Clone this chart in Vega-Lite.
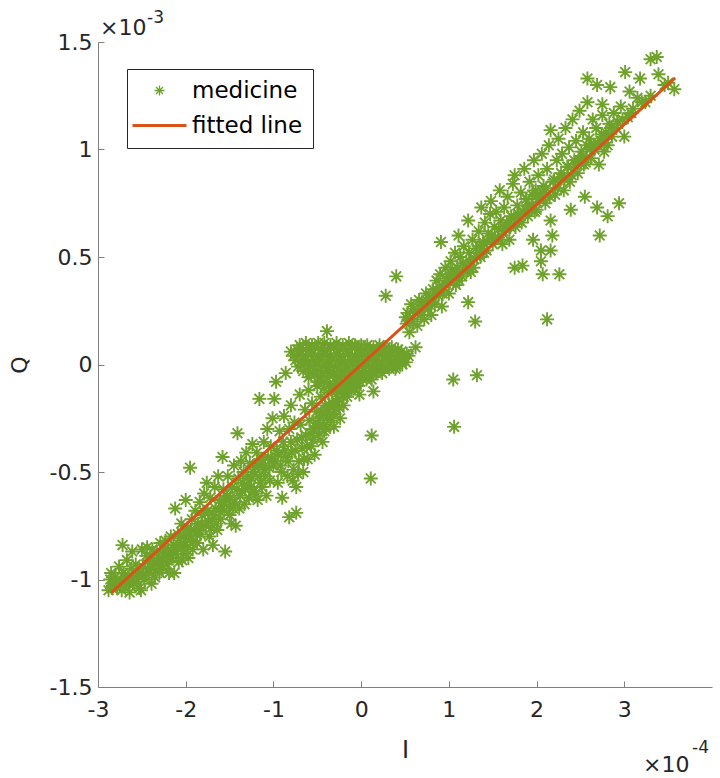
{
  "$schema": "https://vega.github.io/schema/vega-lite/v6.json",
  "width": 614,
  "height": 645,
  "autosize": {"type": "none"},
  "padding": {"left": 98, "top": 42, "right": 8, "bottom": 91},
  "config": {"view": {"stroke": null}, "font": "DejaVu Sans"},
  "datasets": {
    "points": [
      {"I":-2.88,"Q":-1.05},{"I":-2.86,"Q":-1.00},{"I":-2.85,"Q":-0.97},{"I":-2.83,"Q":-1.03},{"I":-2.80,"Q":-0.99},
      {"I":-2.78,"Q":-1.04},{"I":-2.76,"Q":-0.94},{"I":-2.74,"Q":-1.01},{"I":-2.72,"Q":-0.84},{"I":-2.71,"Q":-0.97},
      {"I":-2.69,"Q":-1.03},{"I":-2.67,"Q":-0.91},{"I":-2.66,"Q":-0.99},{"I":-2.64,"Q":-1.06},{"I":-2.62,"Q":-0.95},
      {"I":-2.61,"Q":-0.87},{"I":-2.59,"Q":-1.02},{"I":-2.57,"Q":-0.93},{"I":-2.55,"Q":-0.98},{"I":-2.53,"Q":-1.04},
      {"I":-2.51,"Q":-1.05},{"I":-2.50,"Q":-0.86},{"I":-2.49,"Q":-0.94},{"I":-2.47,"Q":-1.00},{"I":-2.45,"Q":-0.89},
      {"I":-2.44,"Q":-0.85},{"I":-2.42,"Q":-0.97},{"I":-2.41,"Q":-0.91},{"I":-2.39,"Q":-1.02},{"I":-2.38,"Q":-0.86},
      {"I":-2.37,"Q":-0.95},{"I":-2.35,"Q":-0.99},{"I":-2.33,"Q":-0.88},{"I":-2.32,"Q":-0.93},{"I":-2.30,"Q":-0.97},
      {"I":-2.29,"Q":-0.83},{"I":-2.27,"Q":-0.90},{"I":-2.26,"Q":-0.95},{"I":-2.24,"Q":-0.89},{"I":-2.23,"Q":-0.82},
      {"I":-2.21,"Q":-0.93},{"I":-2.20,"Q":-0.86},{"I":-2.19,"Q":-0.97},{"I":-2.17,"Q":-0.80},{"I":-2.16,"Q":-0.90},
      {"I":-2.14,"Q":-0.84},{"I":-2.13,"Q":-0.97},{"I":-2.12,"Q":-0.67},{"I":-2.11,"Q":-0.88},{"I":-2.09,"Q":-0.79},
      {"I":-2.08,"Q":-0.92},{"I":-2.06,"Q":-0.84},{"I":-2.05,"Q":-0.74},{"I":-2.03,"Q":-0.88},{"I":-2.02,"Q":-0.80},
      {"I":-2.00,"Q":-0.63},{"I":-2.00,"Q":-0.84},{"I":-1.98,"Q":-0.76},{"I":-1.97,"Q":-0.90},
      {"I":-2.84,"Q":-1.04},{"I":-2.79,"Q":-1.01},{"I":-2.73,"Q":-1.05},{"I":-2.70,"Q":-0.99},{"I":-2.65,"Q":-1.02},
      {"I":-2.60,"Q":-0.99},{"I":-2.56,"Q":-1.01},{"I":-2.52,"Q":-0.97},{"I":-2.48,"Q":-0.98},{"I":-2.43,"Q":-0.95},
      {"I":-2.40,"Q":-0.94},{"I":-2.36,"Q":-0.92},{"I":-2.31,"Q":-0.90},{"I":-2.28,"Q":-0.93},{"I":-2.25,"Q":-0.86},
      {"I":-2.22,"Q":-0.89},{"I":-2.18,"Q":-0.90},{"I":-2.15,"Q":-0.87},{"I":-2.10,"Q":-0.85},{"I":-2.07,"Q":-0.81},
      {"I":-2.04,"Q":-0.91},{"I":-2.01,"Q":-0.77},{"I":-1.99,"Q":-0.86},{"I":-1.96,"Q":-0.79},
      {"I":-1.95,"Q":-0.48},{"I":-1.95,"Q":-0.81},{"I":-1.93,"Q":-0.72},{"I":-1.92,"Q":-0.86},{"I":-1.90,"Q":-0.77},
      {"I":-1.89,"Q":-0.68},{"I":-1.87,"Q":-0.83},{"I":-1.86,"Q":-0.74},{"I":-1.84,"Q":-0.64},{"I":-1.83,"Q":-0.79},
      {"I":-1.81,"Q":-0.70},{"I":-1.80,"Q":-0.86},{"I":-1.79,"Q":-0.60},{"I":-1.77,"Q":-0.75},{"I":-1.76,"Q":-0.55},
      {"I":-1.75,"Q":-0.68},{"I":-1.73,"Q":-0.80},{"I":-1.72,"Q":-0.62},{"I":-1.70,"Q":-0.72},{"I":-1.69,"Q":-0.84},
      {"I":-1.67,"Q":-0.57},{"I":-1.66,"Q":-0.67},{"I":-1.64,"Q":-0.77},{"I":-1.63,"Q":-0.52},{"I":-1.61,"Q":-0.63},
      {"I":-1.60,"Q":-0.72},{"I":-1.58,"Q":-0.43},{"I":-1.57,"Q":-0.58},{"I":-1.56,"Q":-0.68},{"I":-1.55,"Q":-0.87},
      {"I":-1.53,"Q":-0.61},{"I":-1.52,"Q":-0.52},{"I":-1.50,"Q":-0.70},{"I":-1.48,"Q":-0.74},{"I":-1.47,"Q":-0.57},
      {"I":-1.45,"Q":-0.47},{"I":-1.44,"Q":-0.64},{"I":-1.43,"Q":-0.75},{"I":-1.41,"Q":-0.32},{"I":-1.40,"Q":-0.53},
      {"I":-1.39,"Q":-0.67},{"I":-1.37,"Q":-0.45},{"I":-1.36,"Q":-0.59},{"I":-1.34,"Q":-0.50},{"I":-1.33,"Q":-0.65},
      {"I":-1.31,"Q":-0.41},{"I":-1.30,"Q":-0.56},{"I":-1.28,"Q":-0.62},{"I":-1.27,"Q":-0.46},{"I":-1.25,"Q":-0.53},
      {"I":-1.24,"Q":-0.37},{"I":-1.22,"Q":-0.59},{"I":-1.21,"Q":-0.48},{"I":-1.19,"Q":-0.41},{"I":-1.18,"Q":-0.63},
      {"I":-1.16,"Q":-0.16},{"I":-1.16,"Q":-0.52},{"I":-1.14,"Q":-0.44},{"I":-1.13,"Q":-0.57},{"I":-1.11,"Q":-0.36},
      {"I":-1.10,"Q":-0.49},{"I":-1.08,"Q":-0.61},{"I":-1.07,"Q":-0.30},{"I":-1.06,"Q":-0.43},{"I":-1.04,"Q":-0.54},
      {"I":-1.03,"Q":-0.38},{"I":-1.01,"Q":-0.25},{"I":-1.00,"Q":-0.47},{"I":-0.99,"Q":-0.16},
      {"I":-1.94,"Q":-0.77},{"I":-1.91,"Q":-0.82},{"I":-1.88,"Q":-0.79},{"I":-1.85,"Q":-0.77},{"I":-1.82,"Q":-0.74},
      {"I":-1.78,"Q":-0.69},{"I":-1.74,"Q":-0.73},{"I":-1.71,"Q":-0.76},{"I":-1.68,"Q":-0.70},{"I":-1.65,"Q":-0.74},
      {"I":-1.62,"Q":-0.68},{"I":-1.59,"Q":-0.66},{"I":-1.55,"Q":-0.63},{"I":-1.51,"Q":-0.66},{"I":-1.49,"Q":-0.62},
      {"I":-1.46,"Q":-0.67},{"I":-1.42,"Q":-0.58},{"I":-1.38,"Q":-0.61},{"I":-1.35,"Q":-0.55},{"I":-1.32,"Q":-0.58},
      {"I":-1.29,"Q":-0.52},{"I":-1.26,"Q":-0.57},{"I":-1.23,"Q":-0.50},{"I":-1.20,"Q":-0.60},{"I":-1.17,"Q":-0.47},
      {"I":-1.15,"Q":-0.55},{"I":-1.12,"Q":-0.46},{"I":-1.09,"Q":-0.52},{"I":-1.05,"Q":-0.48},{"I":-1.02,"Q":-0.44},
      {"I":-0.97,"Q":-0.08},{"I":-0.96,"Q":-0.40},{"I":-0.95,"Q":-0.55},{"I":-0.93,"Q":-0.31},{"I":-0.92,"Q":-0.47},
      {"I":-0.90,"Q":-0.62},{"I":-0.89,"Q":-0.36},{"I":-0.88,"Q":-0.24},{"I":-0.86,"Q":-0.04},{"I":-0.86,"Q":-0.43},
      {"I":-0.84,"Q":-0.52},{"I":-0.82,"Q":-0.71},{"I":-0.82,"Q":-0.30},{"I":-0.80,"Q":-0.19},{"I":-0.79,"Q":-0.41},
      {"I":-0.77,"Q":-0.49},{"I":-0.76,"Q":-0.27},{"I":-0.74,"Q":-0.57},{"I":-0.74,"Q":-0.69},{"I":-0.73,"Q":-0.35},
      {"I":-0.71,"Q":-0.45},{"I":-0.70,"Q":-0.14},{"I":-0.69,"Q":-0.28},{"I":-0.67,"Q":-0.39},{"I":-0.66,"Q":-0.50},
      {"I":-0.64,"Q":-0.21},{"I":-0.63,"Q":-0.33},{"I":-0.61,"Q":-0.44},{"I":-0.60,"Q":-0.12},{"I":-0.59,"Q":-0.26},
      {"I":-0.57,"Q":-0.38},{"I":-0.56,"Q":-0.18},{"I":-0.54,"Q":-0.30},{"I":-0.53,"Q":-0.42},{"I":-0.51,"Q":-0.22},
      {"I":-0.50,"Q":-0.10},{"I":-0.49,"Q":-0.33},{"I":-0.47,"Q":-0.25},{"I":-0.46,"Q":-0.15},{"I":-0.44,"Q":-0.36},
      {"I":-0.43,"Q":-0.28},{"I":-0.41,"Q":-0.19},{"I":-0.40,"Q":-0.30},{"I":-0.38,"Q":-0.22},{"I":-0.37,"Q":-0.13},
      {"I":-0.35,"Q":-0.26},{"I":-0.33,"Q":-0.18},{"I":-0.31,"Q":-0.29},{"I":-0.30,"Q":-0.12},{"I":-0.28,"Q":-0.21},
      {"I":-0.26,"Q":-0.16},{"I":-0.24,"Q":-0.25},{"I":-0.22,"Q":-0.12},{"I":-0.20,"Q":-0.19},{"I":-0.18,"Q":-0.09},
      {"I":-0.16,"Q":-0.15},{"I":-0.13,"Q":-0.06},{"I":-0.11,"Q":-0.12},{"I":-0.08,"Q":-0.07},{"I":-0.05,"Q":-0.10},
      {"I":-0.98,"Q":-0.45},{"I":-0.95,"Q":-0.42},{"I":-0.91,"Q":-0.50},{"I":-0.87,"Q":-0.40},{"I":-0.83,"Q":-0.45},
      {"I":-0.80,"Q":-0.36},{"I":-0.78,"Q":-0.54},{"I":-0.75,"Q":-0.40},{"I":-0.72,"Q":-0.51},{"I":-0.68,"Q":-0.34},
      {"I":-0.65,"Q":-0.44},{"I":-0.62,"Q":-0.38},{"I":-0.58,"Q":-0.32},{"I":-0.55,"Q":-0.35},{"I":-0.52,"Q":-0.27},
      {"I":-0.48,"Q":-0.29},{"I":-0.45,"Q":-0.22},{"I":-0.42,"Q":-0.31},{"I":-0.39,"Q":-0.25},{"I":-0.36,"Q":-0.19},
      {"I":-0.32,"Q":-0.23},{"I":-0.29,"Q":-0.17},{"I":-0.25,"Q":-0.20},{"I":-0.21,"Q":-0.15},{"I":-0.17,"Q":-0.13},
      {"I":-0.39,"Q":0.155},
      {"I":-0.70,"Q":0.09},{"I":-0.63,"Q":0.10},{"I":-0.56,"Q":0.09},{"I":-0.49,"Q":0.10},{"I":-0.42,"Q":0.10},
      {"I":-0.35,"Q":0.09},{"I":-0.28,"Q":0.10},{"I":-0.21,"Q":0.09},{"I":-0.14,"Q":0.10},{"I":-0.07,"Q":0.09},
      {"I":0.00,"Q":0.09},{"I":0.07,"Q":0.09},{"I":0.14,"Q":0.08},{"I":0.21,"Q":0.09},{"I":0.28,"Q":0.08},
      {"I":0.35,"Q":0.08},{"I":0.42,"Q":0.07},
      {"I":-0.80,"Q":0.06},{"I":-0.73,"Q":0.07},{"I":-0.66,"Q":0.07},{"I":-0.59,"Q":0.07},{"I":-0.52,"Q":0.08},
      {"I":-0.45,"Q":0.07},{"I":-0.38,"Q":0.07},{"I":-0.31,"Q":0.08},{"I":-0.24,"Q":0.07},{"I":-0.17,"Q":0.07},
      {"I":-0.10,"Q":0.08},{"I":-0.03,"Q":0.07},{"I":0.04,"Q":0.07},{"I":0.11,"Q":0.06},{"I":0.18,"Q":0.07},
      {"I":0.25,"Q":0.06},{"I":0.32,"Q":0.06},{"I":0.39,"Q":0.06},{"I":0.46,"Q":0.06},{"I":0.52,"Q":0.05},
      {"I":-0.77,"Q":0.04},{"I":-0.70,"Q":0.05},{"I":-0.63,"Q":0.04},{"I":-0.56,"Q":0.05},{"I":-0.49,"Q":0.04},
      {"I":-0.42,"Q":0.05},{"I":-0.35,"Q":0.04},{"I":-0.28,"Q":0.05},{"I":-0.21,"Q":0.04},{"I":-0.14,"Q":0.05},
      {"I":-0.07,"Q":0.04},{"I":0.00,"Q":0.05},{"I":0.07,"Q":0.04},{"I":0.14,"Q":0.04},{"I":0.21,"Q":0.05},
      {"I":0.28,"Q":0.04},{"I":0.35,"Q":0.04},{"I":0.42,"Q":0.04},{"I":0.49,"Q":0.03},{"I":0.54,"Q":0.04},
      {"I":-0.75,"Q":0.02},{"I":-0.68,"Q":0.02},{"I":-0.61,"Q":0.01},{"I":-0.54,"Q":0.02},{"I":-0.47,"Q":0.02},
      {"I":-0.40,"Q":0.01},{"I":-0.33,"Q":0.02},{"I":-0.26,"Q":0.02},{"I":-0.19,"Q":0.01},{"I":-0.12,"Q":0.02},
      {"I":-0.05,"Q":0.02},{"I":0.02,"Q":0.01},{"I":0.09,"Q":0.02},{"I":0.16,"Q":0.02},{"I":0.23,"Q":0.01},
      {"I":0.30,"Q":0.02},{"I":0.37,"Q":0.01},{"I":0.44,"Q":0.02},{"I":0.51,"Q":0.01},
      {"I":-0.72,"Q":-0.01},{"I":-0.65,"Q":0.00},{"I":-0.58,"Q":-0.01},{"I":-0.51,"Q":0.00},{"I":-0.44,"Q":-0.01},
      {"I":-0.37,"Q":0.00},{"I":-0.30,"Q":-0.01},{"I":-0.23,"Q":0.00},{"I":-0.16,"Q":-0.01},{"I":-0.09,"Q":0.00},
      {"I":-0.02,"Q":-0.01},{"I":0.05,"Q":0.00},{"I":0.12,"Q":-0.01},{"I":0.19,"Q":0.00},{"I":0.26,"Q":-0.01},
      {"I":0.33,"Q":0.00},{"I":0.40,"Q":-0.01},{"I":0.47,"Q":0.00},
      {"I":-0.66,"Q":-0.03},{"I":-0.59,"Q":-0.04},{"I":-0.52,"Q":-0.03},{"I":-0.45,"Q":-0.04},{"I":-0.38,"Q":-0.03},
      {"I":-0.31,"Q":-0.04},{"I":-0.24,"Q":-0.03},{"I":-0.17,"Q":-0.04},{"I":-0.10,"Q":-0.03},{"I":-0.03,"Q":-0.04},
      {"I":0.04,"Q":-0.03},{"I":0.11,"Q":-0.03},{"I":0.18,"Q":-0.03},{"I":0.25,"Q":-0.02},{"I":0.32,"Q":-0.02},
      {"I":0.39,"Q":-0.02},
      {"I":-0.60,"Q":-0.06},{"I":-0.53,"Q":-0.05},{"I":-0.46,"Q":-0.06},{"I":-0.39,"Q":-0.06},{"I":-0.32,"Q":-0.05},
      {"I":-0.25,"Q":-0.06},{"I":-0.18,"Q":-0.05},{"I":-0.11,"Q":-0.06},{"I":-0.04,"Q":-0.05},{"I":0.03,"Q":-0.05},
      {"I":0.10,"Q":-0.05},{"I":0.17,"Q":-0.04},{"I":0.24,"Q":-0.04},
      {"I":-0.50,"Q":-0.08},{"I":-0.43,"Q":-0.08},{"I":-0.36,"Q":-0.09},{"I":-0.29,"Q":-0.08},{"I":-0.22,"Q":-0.08},
      {"I":-0.15,"Q":-0.09},{"I":-0.08,"Q":-0.08},{"I":-0.01,"Q":-0.08},{"I":0.06,"Q":-0.07},{"I":0.12,"Q":-0.07},
      {"I":-0.42,"Q":-0.11},{"I":-0.35,"Q":-0.11},{"I":-0.28,"Q":-0.12},{"I":-0.21,"Q":-0.11},{"I":-0.14,"Q":-0.11},
      {"I":-0.07,"Q":-0.11},
      {"I":0.14,"Q":-0.125},{"I":0.12,"Q":-0.33},{"I":0.11,"Q":-0.53},{"I":-0.02,"Q":-0.14},
      {"I":0.28,"Q":0.32},{"I":0.40,"Q":0.41},{"I":0.52,"Q":0.19},{"I":0.53,"Q":0.24},{"I":0.55,"Q":0.15},
      {"I":0.57,"Q":0.28},{"I":0.59,"Q":0.20},{"I":0.61,"Q":0.24},{"I":0.62,"Q":0.08},{"I":0.64,"Q":0.18},
      {"I":0.66,"Q":0.30},{"I":0.68,"Q":0.23},{"I":0.70,"Q":0.27},{"I":0.72,"Q":0.21},{"I":0.74,"Q":0.33},
      {"I":0.76,"Q":0.26},{"I":0.78,"Q":0.30},{"I":0.80,"Q":0.23},{"I":0.82,"Q":0.35},{"I":0.84,"Q":0.28},
      {"I":0.86,"Q":0.39},{"I":0.88,"Q":0.32},{"I":0.90,"Q":0.42},{"I":0.91,"Q":0.57},{"I":0.92,"Q":0.27},
      {"I":0.94,"Q":0.36},{"I":0.96,"Q":0.45},{"I":0.98,"Q":0.39},{"I":1.00,"Q":0.33},{"I":1.02,"Q":0.48},
      {"I":1.03,"Q":0.41},{"I":1.05,"Q":-0.07},{"I":1.06,"Q":-0.29},{"I":1.07,"Q":0.52},{"I":1.08,"Q":0.37},
      {"I":1.10,"Q":0.45},{"I":1.11,"Q":0.60},{"I":1.13,"Q":0.50},{"I":1.15,"Q":0.41},{"I":1.17,"Q":0.55},
      {"I":1.19,"Q":0.46},{"I":1.22,"Q":0.29},{"I":1.22,"Q":0.67},{"I":1.23,"Q":0.52},{"I":1.25,"Q":0.43},
      {"I":1.27,"Q":0.58},{"I":1.29,"Q":0.49},{"I":1.30,"Q":0.20},{"I":1.31,"Q":0.54},{"I":1.32,"Q":-0.05},
      {"I":1.34,"Q":0.62},{"I":1.36,"Q":0.50},{"I":1.37,"Q":0.73},{"I":1.39,"Q":0.57},{"I":1.41,"Q":0.66},
      {"I":1.43,"Q":0.53},{"I":1.45,"Q":0.61},{"I":1.47,"Q":0.70},{"I":1.48,"Q":0.76},{"I":1.50,"Q":0.56},
      {"I":1.52,"Q":0.64},{"I":1.54,"Q":0.71},{"I":1.56,"Q":0.59},{"I":1.58,"Q":0.81},{"I":1.59,"Q":0.67},
      {"I":0.51,"Q":0.22},{"I":0.56,"Q":0.21},{"I":0.60,"Q":0.26},{"I":0.65,"Q":0.25},{"I":0.69,"Q":0.29},
      {"I":0.73,"Q":0.27},{"I":0.77,"Q":0.31},{"I":0.81,"Q":0.29},{"I":0.85,"Q":0.33},{"I":0.89,"Q":0.36},
      {"I":0.93,"Q":0.33},{"I":0.97,"Q":0.40},{"I":1.01,"Q":0.38},{"I":1.04,"Q":0.44},{"I":1.09,"Q":0.42},
      {"I":1.12,"Q":0.39},{"I":1.16,"Q":0.47},{"I":1.20,"Q":0.43},{"I":1.24,"Q":0.48},{"I":1.28,"Q":0.45},
      {"I":1.32,"Q":0.50},{"I":1.35,"Q":0.55},{"I":1.40,"Q":0.52},{"I":1.44,"Q":0.57},{"I":1.49,"Q":0.60},
      {"I":1.53,"Q":0.58},{"I":1.57,"Q":0.63},
      {"I":1.61,"Q":0.56},{"I":1.63,"Q":0.73},{"I":1.65,"Q":0.63},{"I":1.67,"Q":0.78},{"I":1.69,"Q":0.58},
      {"I":1.71,"Q":0.69},{"I":1.73,"Q":0.84},{"I":1.75,"Q":0.45},{"I":1.75,"Q":0.88},{"I":1.76,"Q":0.64},
      {"I":1.78,"Q":0.74},{"I":1.80,"Q":0.67},{"I":1.82,"Q":0.80},{"I":1.84,"Q":0.46},{"I":1.85,"Q":0.71},
      {"I":1.86,"Q":0.91},{"I":1.88,"Q":0.77},{"I":1.90,"Q":0.69},{"I":1.92,"Q":0.85},{"I":1.94,"Q":0.74},
      {"I":1.96,"Q":0.58},{"I":1.97,"Q":0.95},{"I":1.99,"Q":0.81},{"I":2.00,"Q":0.72},{"I":2.02,"Q":0.88},
      {"I":2.04,"Q":0.78},{"I":2.05,"Q":0.53},{"I":2.05,"Q":0.48},{"I":2.06,"Q":0.98},{"I":2.07,"Q":0.42},
      {"I":2.08,"Q":0.83},{"I":2.10,"Q":0.75},{"I":2.12,"Q":0.21},{"I":2.12,"Q":0.91},{"I":2.14,"Q":1.02},
      {"I":2.16,"Q":0.67},{"I":2.16,"Q":0.53},{"I":2.16,"Q":1.09},{"I":2.18,"Q":0.60},{"I":2.19,"Q":0.85},
      {"I":2.21,"Q":0.79},{"I":2.23,"Q":0.95},{"I":2.25,"Q":1.05},{"I":2.26,"Q":0.42},{"I":2.27,"Q":0.87},
      {"I":2.29,"Q":0.98},{"I":2.31,"Q":0.81},{"I":2.33,"Q":1.10},{"I":2.35,"Q":0.92},{"I":2.37,"Q":1.01},
      {"I":2.38,"Q":0.85},{"I":2.39,"Q":0.72},{"I":2.41,"Q":1.14},{"I":2.43,"Q":0.95},{"I":2.45,"Q":1.04},
      {"I":2.47,"Q":0.89},{"I":2.49,"Q":1.18},{"I":2.51,"Q":0.99},{"I":2.53,"Q":1.08},{"I":2.54,"Q":0.93},
      {"I":2.55,"Q":0.78},{"I":2.57,"Q":1.02},{"I":2.58,"Q":1.22},{"I":2.58,"Q":1.33},
      {"I":1.62,"Q":0.62},{"I":1.66,"Q":0.66},{"I":1.70,"Q":0.64},{"I":1.74,"Q":0.68},{"I":1.79,"Q":0.70},
      {"I":1.83,"Q":0.66},{"I":1.87,"Q":0.72},{"I":1.91,"Q":0.74},{"I":1.95,"Q":0.79},{"I":1.98,"Q":0.71},
      {"I":2.03,"Q":0.77},{"I":2.07,"Q":0.80},{"I":2.11,"Q":0.82},{"I":2.15,"Q":0.78},{"I":2.20,"Q":0.86},
      {"I":2.24,"Q":0.82},{"I":2.28,"Q":0.89},{"I":2.32,"Q":0.86},{"I":2.36,"Q":0.92},{"I":2.40,"Q":0.88},
      {"I":2.44,"Q":0.93},{"I":2.48,"Q":0.95},{"I":2.52,"Q":0.97},{"I":2.56,"Q":0.94},
      {"I":2.60,"Q":1.05},{"I":2.62,"Q":0.96},{"I":2.64,"Q":1.14},{"I":2.66,"Q":1.00},{"I":2.68,"Q":1.10},
      {"I":2.69,"Q":1.30},{"I":2.69,"Q":0.73},{"I":2.71,"Q":0.93},{"I":2.72,"Q":0.60},{"I":2.73,"Q":1.04},
      {"I":2.75,"Q":1.16},{"I":2.75,"Q":1.21},{"I":2.77,"Q":0.99},{"I":2.79,"Q":1.08},{"I":2.81,"Q":1.02},
      {"I":2.81,"Q":0.69},{"I":2.83,"Q":1.12},{"I":2.84,"Q":1.29},{"I":2.86,"Q":1.06},{"I":2.88,"Q":1.17},
      {"I":2.91,"Q":1.10},{"I":2.94,"Q":0.75},{"I":2.96,"Q":1.20},{"I":3.00,"Q":1.06},{"I":3.01,"Q":1.36},
      {"I":3.04,"Q":1.15},{"I":3.06,"Q":1.27},{"I":3.10,"Q":1.19},{"I":3.15,"Q":1.24},{"I":3.18,"Q":1.33},
      {"I":3.24,"Q":1.22},{"I":3.30,"Q":1.42},{"I":3.37,"Q":1.43},{"I":3.39,"Q":1.35},{"I":3.46,"Q":1.30},
      {"I":3.57,"Q":1.28},
      {"I":2.61,"Q":1.00},{"I":2.65,"Q":1.02},{"I":2.70,"Q":1.03},{"I":2.74,"Q":1.07},{"I":2.78,"Q":1.05},
      {"I":2.85,"Q":1.10},{"I":2.92,"Q":1.13},{"I":2.98,"Q":1.14},{"I":3.08,"Q":1.17},{"I":3.20,"Q":1.22},
      {"I":3.30,"Q":1.25},{"I":3.50,"Q":1.31}
    ],
    "fit": [
      {"I":-2.85,"Q":-1.062},
      {"I":3.58,"Q":1.333}
    ]
  },
  "encoding": {
    "x": {
      "field": "I",
      "type": "quantitative",
      "scale": {"domain": [-3, 4], "nice": false, "zero": false},
      "axis": {
        "title": "I",
        "values": [-3, -2, -1, 0, 1, 2, 3],
        "labelExpr": "toString(datum.value)",
        "grid": false,
        "labelFlush": false,
        "labelOverlap": false,
        "tickSize": -6,
        "labelPadding": 18,
        "labelFontSize": 22,
        "labelColor": "#262626",
        "domainColor": "#808080",
        "tickColor": "#808080",
        "titleFontSize": 24,
        "titleFontWeight": "normal",
        "titleColor": "#262626",
        "titlePadding": 18
      }
    },
    "y": {
      "field": "Q",
      "type": "quantitative",
      "scale": {"domain": [-1.5, 1.5], "nice": false, "zero": false},
      "axis": {
        "title": "Q",
        "values": [-1.5, -1, -0.5, 0, 0.5, 1, 1.5],
        "labelExpr": "toString(datum.value)",
        "grid": false,
        "labelFlush": false,
        "labelOverlap": false,
        "tickSize": -6,
        "labelPadding": 12,
        "labelFontSize": 22,
        "labelColor": "#262626",
        "domainColor": "#808080",
        "tickColor": "#808080",
        "titleFontSize": 22,
        "titleFontWeight": "normal",
        "titleColor": "#262626",
        "titlePadding": 18
      }
    }
  },
  "layer": [
    {
      "data": {"name": "points"},
      "mark": {"type": "point", "filled": false, "opacity": 1, "size": 196, "strokeWidth": 1.9},
      "encoding": {
        "color": {
          "datum": "medicine",
          "scale": {"domain": ["medicine", "fitted line"], "range": ["#6FA22B", "#D95319"]},
          "legend": {
            "title": null, "orient": "none", "legendX": 29, "legendY": 27,
            "padding": 10, "strokeColor": "#262626", "fillColor": "white",
            "labelFontSize": 23, "labelColor": "#000000", "labelFont": "DejaVu Sans", "labelLimit": 300,
            "symbolSize": 100, "symbolStrokeWidth": 1.3, "symbolOffset": 11, "labelOffset": 21, "rowPadding": 11
          }
        },
        "shape": {
          "datum": "medicine",
          "scale": {
            "domain": ["medicine", "fitted line"],
            "range": [
              "M-1,0L1,0M0,-1L0,1M-0.7,-0.7L0.7,0.7M-0.7,0.7L0.7,-0.7",
              "M-5.4,-0.15L5.4,-0.15M-5.4,0.15L5.4,0.15"
            ]
          },
          "legend": {
            "title": null, "orient": "none", "legendX": 29, "legendY": 27,
            "padding": 10, "strokeColor": "#262626", "fillColor": "white",
            "labelFontSize": 23, "labelColor": "#000000", "labelFont": "DejaVu Sans", "labelLimit": 300,
            "symbolSize": 100, "symbolStrokeWidth": 1.3, "symbolOffset": 11, "labelOffset": 21, "rowPadding": 11
          }
        }
      }
    },
    {
      "data": {"name": "fit"},
      "mark": {"type": "line", "color": "#D95319", "strokeWidth": 3}
    },
    {
      "data": {"values": [{"I": -3, "Q": 1.5, "txt": "×10"}]},
      "mark": {"type": "text", "align": "left", "baseline": "alphabetic", "fontSize": 22, "fill": "#262626", "dx": 2, "dy": -7},
      "encoding": {"text": {"field": "txt", "type": "nominal"}}
    },
    {
      "data": {"values": [{"I": -3, "Q": 1.5, "txt": "-3"}]},
      "mark": {"type": "text", "align": "left", "baseline": "alphabetic", "fontSize": 17, "fill": "#262626", "dx": 49, "dy": -19},
      "encoding": {"text": {"field": "txt", "type": "nominal"}}
    },
    {
      "data": {"values": [{"I": 4, "Q": -1.5, "txt": "×10"}]},
      "mark": {"type": "text", "align": "left", "baseline": "alphabetic", "fontSize": 22, "fill": "#262626", "dx": -69, "dy": 85},
      "encoding": {"text": {"field": "txt", "type": "nominal"}}
    },
    {
      "data": {"values": [{"I": 4, "Q": -1.5, "txt": "-4"}]},
      "mark": {"type": "text", "align": "left", "baseline": "alphabetic", "fontSize": 17, "fill": "#262626", "dx": -20, "dy": 66},
      "encoding": {"text": {"field": "txt", "type": "nominal"}}
    }
  ]
}
